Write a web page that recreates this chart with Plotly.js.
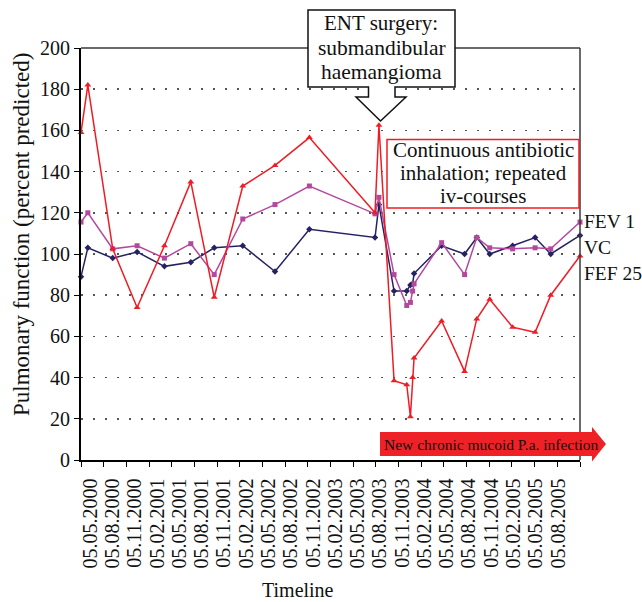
<!DOCTYPE html>
<html>
<head>
<meta charset="utf-8">
<script src="https://cdn.plot.ly/plotly-3.0.1.min.js"></script>
<style>html,body{margin:0;padding:0;background:#fff;}#chart{width:642px;height:602px;}</style>
</head>
<body>
<div id="chart"></div>
<script>
// ---- data ----
const dates = ['2000-03-29','2000-04-26','2000-08-06','2000-11-14','2001-03-06','2001-06-22','2001-09-26',
  '2002-01-21','2002-06-02','2002-10-21','2003-07-17','2003-08-02','2003-10-03','2003-11-24','2003-12-09',
  '2003-12-18','2003-12-24','2004-04-15','2004-07-18','2004-09-06','2004-10-29','2005-01-31','2005-05-03',
  '2005-07-06','2005-11-03'];
const vc    = [89,103,98,101,94,96,103,104,91.5,112,108,124,82,82,85,85.5,90.5,104,100,108,100,104,108,100,109];
const fev1  = [115.5,120,102.5,104,98,105,90,117,124,133,119.5,127.5,90,75,76.5,82,85.5,105.5,90,108,103,102.5,103,102.5,115.5];
const fef25 = [159,182,102.5,74,104,135,79,133,143,156.5,120,162.5,38.5,36.5,21,40,49.5,67.5,43,68.5,78,64.5,62,80,99];
const seriesNames = ['VC','FEV 1','FEF 25'];
const labelDates = ['2000-05-05','2000-08-05','2000-11-05','2001-02-05','2001-05-05','2001-08-05','2001-11-05',
  '2002-02-05','2002-05-05','2002-08-05','2002-11-05','2003-02-05','2003-05-05','2003-08-05','2003-11-05',
  '2004-02-05','2004-05-05','2004-08-05','2004-11-05','2005-02-05','2005-05-05','2005-08-05'];
const yTicks = [0,20,40,60,80,100,120,140,160,180,200];
const xRange = ['2000-03-29','2005-11-03'];

// ---- layout helpers ----
const W = 642, H = 602, L = 81, R = 580, T = 48, B = 460;
const px = x => (x - L) / (R - L);
const py = y => (B - y) / (B - T);
const SERIF = '"Liberation Serif", serif';

const t0 = Date.parse(xRange[0]), t1 = Date.parse(xRange[1]);
const minorVals = [];
for (let i = 0; i <= 22; i++) minorVals.push(t0 + (t1 - t0) * i / 22);

function pathStr(pts) {
  return 'M ' + pts.map(p => px(p[0]).toFixed(5) + ',' + py(p[1]).toFixed(5)).join(' L ') + ' Z';
}

const traces = [
  {x: dates, y: vc, name: seriesNames[0], mode: 'lines+markers', cliponaxis: false,
   line: {color: '#262262', width: 1.5}, marker: {symbol: 'diamond', size: 5, color: '#262262'}},
  {x: dates, y: fev1, name: seriesNames[1], mode: 'lines+markers', cliponaxis: false,
   line: {color: '#b4489e', width: 1.5}, marker: {symbol: 'square', size: 5, color: '#b4489e'}},
  {x: dates, y: fef25, name: seriesNames[2], mode: 'lines+markers', cliponaxis: false,
   line: {color: '#ee1c25', width: 1.5}, marker: {symbol: 'triangle-up', size: 6, color: '#ee1c25'}}
];

const shapes = [
  {type: 'line', xref: 'paper', yref: 'paper', x0: 0, x1: 1, y0: 1, y1: 1, line: {color: '#3a3a3a', width: 1.5}},
  {type: 'line', xref: 'paper', yref: 'paper', x0: 1, x1: 1, y0: 0, y1: 1, line: {color: '#3a3a3a', width: 1.5}},
  {type: 'path', xref: 'paper', yref: 'paper', fillcolor: '#ffffff', line: {color: '#111', width: 1.5},
   path: pathStr([[308,10],[455,10],[455,87],[395,87],[395,97],[406,97],[380.5,121],[356,97],[368.5,97],[368.5,87],[308,87]])},
  {type: 'rect', xref: 'paper', yref: 'paper', fillcolor: '#ffffff', line: {color: '#ee1c25', width: 1.5},
   x0: px(387), x1: px(579), y0: py(208), y1: py(139.5)},
  {type: 'path', xref: 'paper', yref: 'paper', fillcolor: '#ee2226', line: {width: 0},
   path: pathStr([[380,432],[592,432],[592,427],[606,444],[592,461.5],[592,456],[380,456]])}
];

function ann(text, x, y, size, opts) {
  return Object.assign({text: text, xref: 'paper', yref: 'paper', x: px(x), y: py(y), showarrow: false,
    xanchor: 'center', yanchor: 'middle', font: {family: SERIF, size: size, color: '#111'}}, opts || {});
}

const annotations = [
  ann('ENT surgery:', 381, 23, 21),
  ann('submandibular', 382, 48, 21.5),
  ann('haemangioma', 381, 72, 21.5),
  ann('Continuous antibiotic', 483, 150, 21),
  ann('inhalation; repeated', 483, 173, 21),
  ann('iv-courses', 483, 196, 21),
  ann('FEV 1', 582, 221, 19.5, {xanchor: 'left'}),
  ann('VC', 582, 247, 19.5, {xanchor: 'left'}),
  ann('FEF 25', 582, 273, 19.5, {xanchor: 'left'}),
  ann('New chronic mucoid P.a. infection', 382, 444, 15.5, {xanchor: 'left'}),
  ann('Timeline', 298, 590, 20),
  ann('Pulmonary function (percent predicted)', 21, 235, 23, {textangle: -90})
];

const layout = {
  width: W, height: H,
  margin: {l: L, r: W - R, t: T, b: H - B, pad: 0},
  paper_bgcolor: '#ffffff', plot_bgcolor: '#ffffff',
  showlegend: false,
  font: {family: SERIF, color: '#111'},
  xaxis: {
    type: 'date', range: xRange, tickmode: 'array', tickvals: labelDates, tickformat: '%d.%m.%Y',
    tickangle: -90, ticks: '', showline: true, linecolor: '#000', linewidth: 1.5, showgrid: false,
    zeroline: false, tickfont: {family: SERIF, size: 20, color: '#111'}, ticklabelstandoff: 9,
    minor: {tickmode: 'array', tickvals: minorVals, ticks: 'outside', ticklen: 5, tickwidth: 1, tickcolor: '#000', showgrid: false}
  },
  yaxis: {
    range: [0, 200], tickmode: 'array', tickvals: yTicks, ticks: 'outside', ticklen: 5, tickwidth: 1,
    tickcolor: '#000', showline: true, linecolor: '#000', linewidth: 2, zeroline: false,
    showgrid: true, gridcolor: '#555', gridwidth: 1.5, griddash: '2px,10px',
    tickfont: {family: SERIF, size: 20, color: '#111'}
  },
  shapes: shapes,
  annotations: annotations
};

Plotly.newPlot('chart', traces, layout, {staticPlot: true, displayModeBar: false});
</script>
</body>
</html>
